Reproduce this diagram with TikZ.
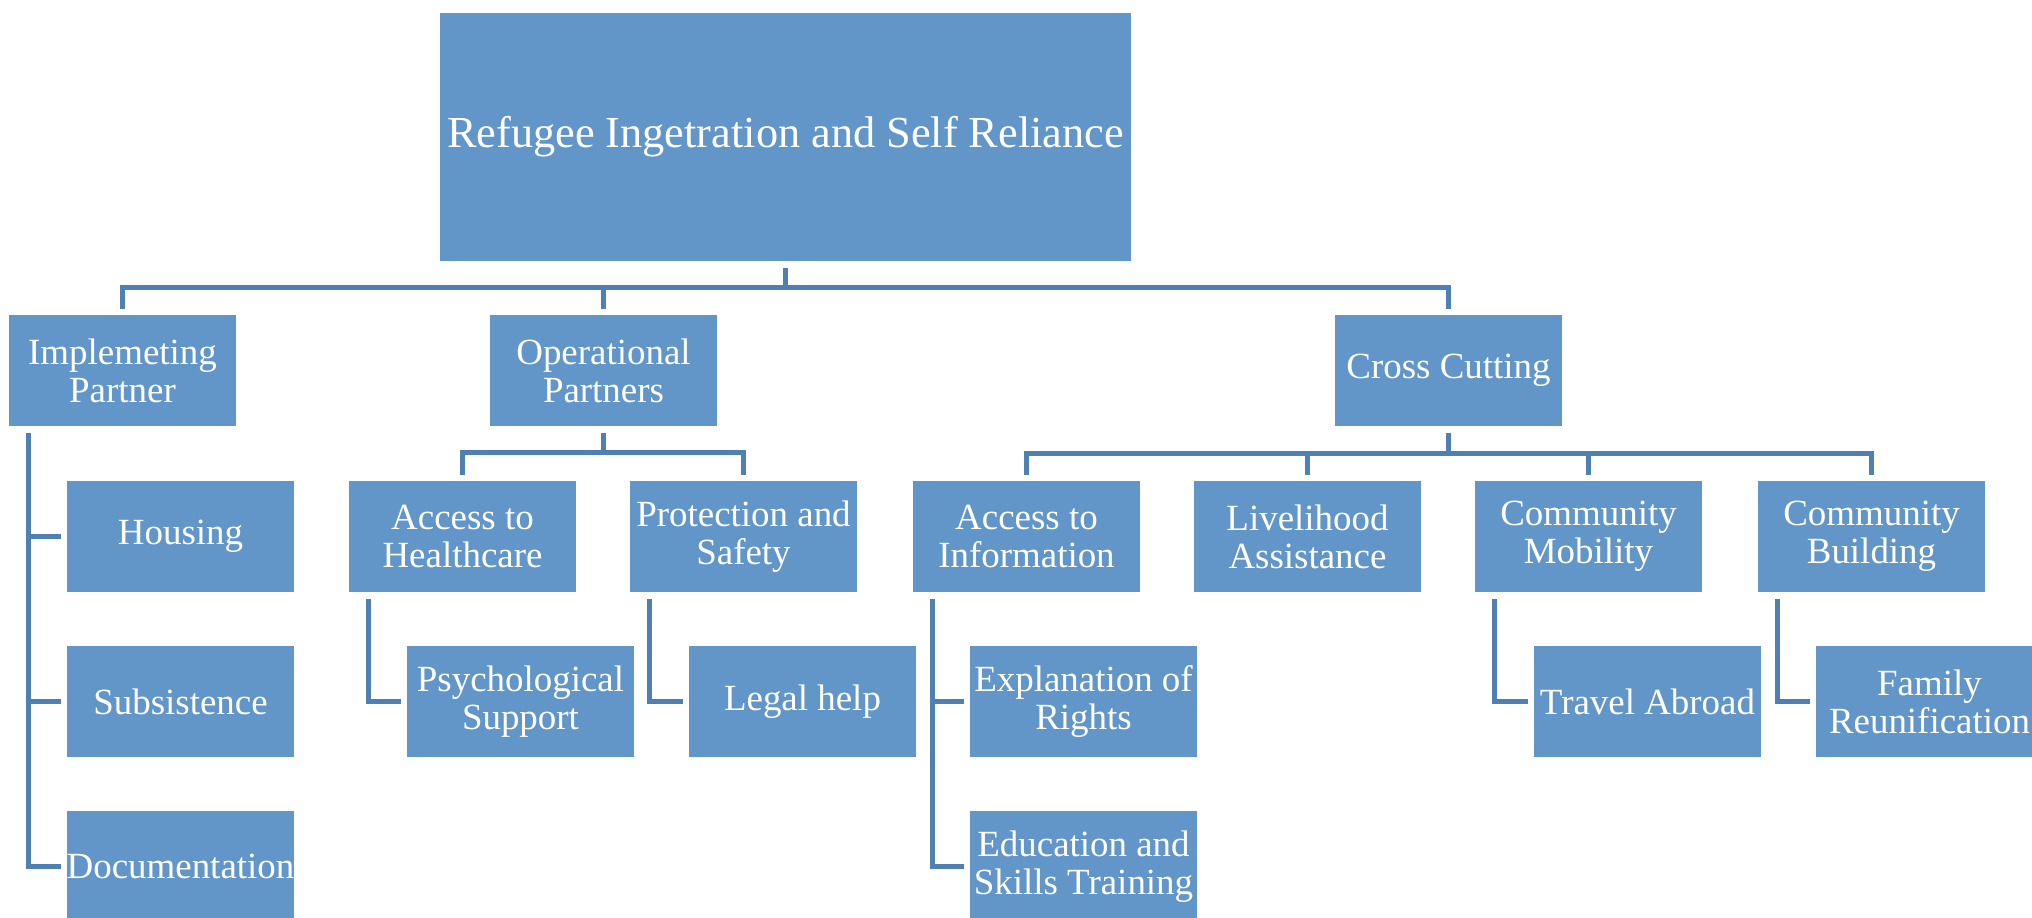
\documentclass[tikz,border=0pt]{standalone}
\usepackage{fontspec}
\setmainfont{Liberation Serif}

\definecolor{boxblue}{RGB}{98,150,201}
\definecolor{linkblue}{RGB}{79,128,180}

\tikzset{
    box/.style={rectangle, fill=boxblue, text=white, minimum width=2.27cm, minimum height=1.11cm,
        inner sep=0pt, align=center, font=\fontsize{10.5}{10.8}\selectfont},
    link/.style={draw=linkblue, line width=0.05cm, shorten <=0.06cm, shorten >=0.05cm},
}

\begin{document}
\begin{tikzpicture}[x=0.01cm, y=-0.01cm]
    \clip (0, 0) rectangle (2032, 917);

    \node[box, minimum width=6.91cm, minimum height=2.48cm, font=\fontsize{12.6}{15}\selectfont] (root) at (785.5, 137) {Refugee Ingetration and Self Reliance};

    \node[box] (impl)  at (122.5, 370.5)  {Implemeting\\Partner};
    \node[box] (oper)  at (603.5, 370.5)  {Operational\\Partners};
    \node[box] (cross) at (1448.5, 370.5) {Cross Cutting};

    \node[box] (housing) at (180.5, 536.5)  {Housing};
    \node[box] (subsist) at (180.5, 701.5)  {Subsistence};
    \node[box] (docs)    at (180.5, 866.5)  {Documentation};

    \node[box] (health)  at (462.5, 536.5)  {Access to\\Healthcare};
    \node[box] (protect) at (743.5, 536.5)  {Protection and\\Safety};
    \node[box] (psych)   at (520.5, 701.5)  {Psychological\\Support};
    \node[box] (legal)   at (802.5, 701.5)  {Legal help};

    \node[box] (info)    at (1026.5, 536.5) {Access to\\Information};
    \node[box] (liveli)  at (1307.5, 536.5) {Livelihood\\Assistance};
    \node[box] (mobil)   at (1588.5, 536.5) {Community\\Mobility};
    \node[box] (build)   at (1871.5, 536.5) {Community\\Building};
    \node[box] (rights)  at (1083.5, 701.5) {Explanation of\\Rights};
    \node[box] (educ)    at (1083.5, 866.5) {Education and\\Skills Training};
    \node[box] (travel)  at (1647.5, 701.5) {Travel Abroad};
    \node[box] (family)  at (1929.5, 701.5) {Family\\Reunification};

    \coordinate (rootbus)  at (785.5, 287.5);
    \coordinate (operbus)  at (603.5, 452.5);
    \coordinate (crossbus) at (1448.5, 453);

    \draw[link] (root.south) -- (rootbus) -| (impl.north);
    \draw[link] (root.south) -- (rootbus) -| (oper.north);
    \draw[link] (root.south) -- (rootbus) -| (cross.north);

    \draw[link] ([xshift=0.2cm]impl.south west) |- (housing.west);
    \draw[link] ([xshift=0.2cm]impl.south west) |- (subsist.west);
    \draw[link] ([xshift=0.2cm]impl.south west) |- (docs.west);

    \draw[link] (oper.south) -- (operbus) -| (health.north);
    \draw[link] (oper.south) -- (operbus) -| (protect.north);
    \draw[link] ([xshift=0.2cm]health.south west) |- (psych.west);
    \draw[link] ([xshift=0.2cm]protect.south west) |- (legal.west);

    \draw[link] (cross.south) -- (crossbus) -| (info.north);
    \draw[link] (cross.south) -- (crossbus) -| (liveli.north);
    \draw[link] (cross.south) -- (crossbus) -| (mobil.north);
    \draw[link] (cross.south) -- (crossbus) -| (build.north);
    \draw[link] ([xshift=0.2cm]info.south west) |- (rights.west);
    \draw[link] ([xshift=0.2cm]info.south west) |- (educ.west);
    \draw[link] ([xshift=0.2cm]mobil.south west) |- (travel.west);
    \draw[link] ([xshift=0.2cm]build.south west) |- (family.west);
\end{tikzpicture}
\end{document}
